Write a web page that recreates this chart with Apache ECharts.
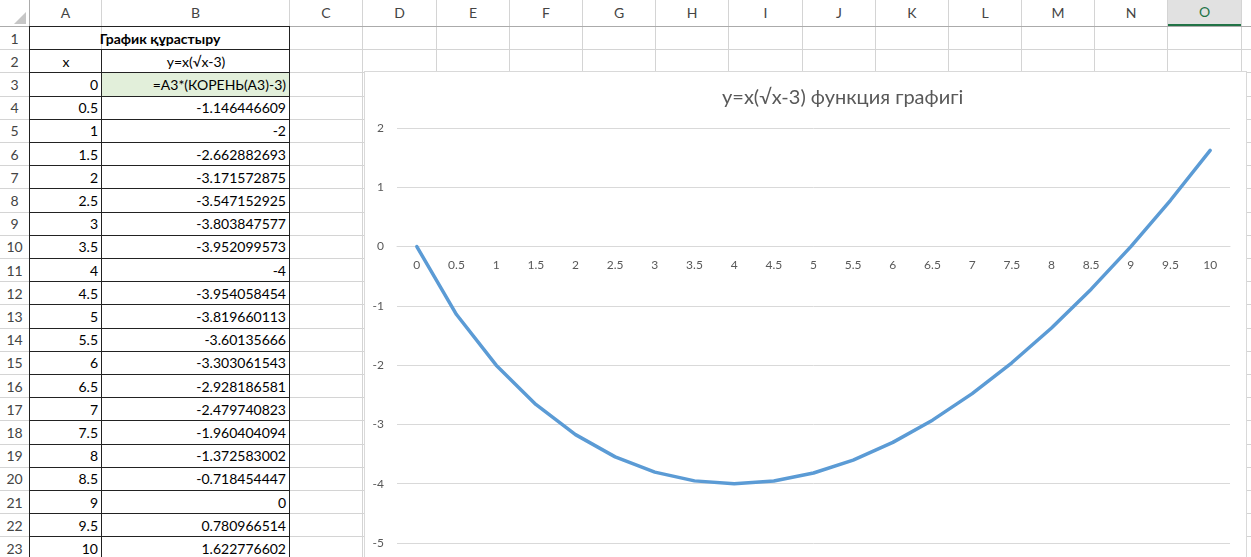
<!DOCTYPE html>
<html>
<head>
<meta charset="utf-8">
<script src="https://cdn.jsdelivr.net/npm/echarts@6/dist/echarts.min.js"></script>
<style>
  html, body { margin:0; padding:0; width:1251px; height:557px; overflow:hidden; background:#fff; }
  #sheet { position:absolute; left:0; top:0; width:1251px; height:557px; font-family: Lato, "Noto Sans", sans-serif; }
  .c { position:absolute; box-sizing:border-box; font-size:14px; color:#000; white-space:nowrap; overflow:visible; line-height:1; display:flex; align-items:center; }
  .hdr { color:#444; justify-content:center; font-size:14px; }
  #chartBorder { position:absolute; left:364px; top:71px; width:883px; height:500px; box-sizing:border-box; border:1px solid #D9D9D9; background:#fff; }
  #chart { position:absolute; left:364px; top:71px; width:883px; height:486px; }
</style>
</head>
<body>
<div id="sheet"></div>
<div id="chartBorder"></div>
<div id="chart"></div>
<script>
// ---- data ----
const columnLetters = ['A','B','C','D','E','F','G','H','I','J','K','L','M','N','O'];
const sheetTitle = 'График құрастыру';
const xHeader = 'x';
const yHeader = 'y=x(√x-3)';
const formulaText = '=А3*(КОРЕНЬ(А3)-3)';
const xLabels = ['0','0.5','1','1.5','2','2.5','3','3.5','4','4.5','5','5.5','6','6.5','7','7.5','8','8.5','9','9.5','10'];
const yValues = [0, -1.146446609, -2, -2.662882693, -3.171572875, -3.547152925, -3.803847577, -3.952099573, -4, -3.954058454, -3.819660113, -3.60135666, -3.303061543, -2.928186581, -2.479740823, -1.960404094, -1.372583002, -0.718454447, 0, 0.780966514, 1.622776602];
const yCellTexts = ['', '-1.146446609', '-2', '-2.662882693', '-3.171572875', '-3.547152925', '-3.803847577', '-3.952099573', '-4', '-3.954058454', '-3.819660113', '-3.60135666', '-3.303061543', '-2.928186581', '-2.479740823', '-1.960404094', '-1.372583002', '-0.718454447', '0', '0.780966514', '1.622776602'];
const chartTitle = 'y=x(√x-3) функция графигі';
const yMin = -5, yMax = 2, yStep = 1;

// ---- spreadsheet (HTML) ----
const sheet = document.getElementById('sheet');
const colEdges = [0,30,102,290,363,437,510,583,656,729,803,876,949,1022,1095,1168,1242,1320];
const headerH = 27, rowH = 23.2, nRows = 23;
function rowTop(r){ return headerH + (r-1)*rowH; }
function addDiv(x,y,w,h,styles,text,cls){
  const d = document.createElement('div');
  d.className = cls || 'c';
  d.style.left = x+'px'; d.style.top = y+'px'; d.style.width = w+'px'; d.style.height = h+'px';
  Object.assign(d.style, styles||{});
  if (text!==undefined) d.textContent = text;
  sheet.appendChild(d);
  return d;
}
for (let i=1;i<colEdges.length-1;i++){
  addDiv(colEdges[i]-1,0,1,557,{background:'#D4D4D4'});
}
for (let r=1;r<=nRows+1;r++){
  addDiv(0,Math.round(rowTop(r))-1,1251,1,{background:'#D4D4D4'});
}
addDiv(0,headerH-1,1251,1,{background:'#ABABAB'});
addDiv(29,0,1,557,{background:'#ABABAB'});
addDiv(14,12,0,0,{borderLeft:'12px solid transparent', borderBottom:'12px solid #C6C6C6'});
for (let i=0;i<columnLetters.length;i++){
  const x = colEdges[i+1], w = colEdges[i+2]-colEdges[i+1];
  const st = {};
  if (columnLetters[i]==='O'){ st.background='#E1E1E1'; st.borderBottom='2px solid #217346'; st.color='#217346'; }
  addDiv(x,0,w-1,headerH-1,st,columnLetters[i],'c hdr');
}
for (let r=1;r<=nRows;r++){
  addDiv(0,rowTop(r),29,rowH,{},String(r),'c hdr');
}
const ax = colEdges[1], bx = colEdges[2], cx = colEdges[3];
addDiv(ax,rowTop(1),cx-ax,rowH,{justifyContent:'center',fontWeight:'bold'},sheetTitle);
addDiv(ax,rowTop(2),bx-ax,rowH,{justifyContent:'center'},xHeader);
addDiv(bx,rowTop(2),cx-bx,rowH,{justifyContent:'center'},yHeader);
addDiv(bx,rowTop(3),cx-bx,rowH,{background:'#E2EFDA'});
for (let i=0;i<xLabels.length;i++){
  const r = i+3;
  addDiv(ax,rowTop(r),bx-ax-4,rowH,{justifyContent:'flex-end'},xLabels[i]);
  const t = (i===0) ? formulaText : yCellTexts[i];
  addDiv(bx,rowTop(r),cx-bx-4,rowH,{justifyContent:'flex-end'},t);
}
for (let r=1;r<=nRows+1;r++){
  addDiv(ax-1,Math.round(rowTop(r))-1,cx-ax+1,1,{background:'#222'});
}
addDiv(ax-1,rowTop(1)-1,1,557,{background:'#222'});
addDiv(bx-1,rowTop(2)-1,1,557,{background:'#222'});
addDiv(cx-1,rowTop(1)-1,1,557,{background:'#222'});

// ---- chart ----
const chart = echarts.init(document.getElementById('chart'));
const FONT = 'Lato, "Noto Sans", sans-serif';
const gridTop = 57, gridBottom = 14, chartH = 486;
const plotH = chartH - gridTop - gridBottom;
// place the category axis on the y = 0 line (as Excel does)
const zeroFromBottom = plotH * (0 - yMin) / (yMax - yMin);
chart.setOption({
  animation:false,
  textStyle:{fontFamily:FONT},
  title:{
    text: chartTitle,
    left: 358, top: 17, padding: 0,
    textStyle:{fontSize:20, fontWeight:'normal', color:'#595959', fontFamily:FONT}
  },
  grid:{left:33, right:17, top:gridTop, bottom:gridBottom, containLabel:false},
  xAxis:{
    type:'category', data:xLabels, boundaryGap:true, position:'bottom',
    offset: -zeroFromBottom,
    axisLine:{show:true, onZero:false, lineStyle:{color:'#D9D9D9', width:1}},
    axisTick:{show:false},
    axisLabel:{color:'#595959', fontSize:12, margin:13, interval:0, fontFamily:FONT},
    splitLine:{show:false}
  },
  yAxis:{
    type:'value', min:yMin, max:yMax, interval:yStep,
    axisLine:{show:false}, axisTick:{show:false},
    axisLabel:{color:'#595959', fontSize:12, margin:13, fontFamily:FONT},
    splitLine:{lineStyle:{color:'#D9D9D9', width:1}}
  },
  series:[{
    type:'line', data:yValues, showSymbol:false, symbol:'none',
    lineStyle:{color:'#5B9BD5', width:3.5, cap:'round', join:'round'},
    itemStyle:{color:'#5B9BD5'}
  }]
});
</script>
</body>
</html>
